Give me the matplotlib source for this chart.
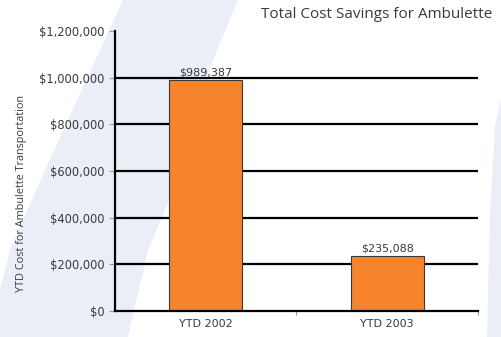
import matplotlib
matplotlib.use("Agg")
import matplotlib.pyplot as plt
from matplotlib.patches import Polygon
from matplotlib.ticker import FuncFormatter

categories = ["YTD 2002", "YTD 2003"]
values = [989387, 235088]
value_labels = ["$989,387", "$235,088"]
yticks = [0, 200000, 400000, 600000, 800000, 1000000, 1200000]

W, H = 502, 337
plt.rcParams['font.family'] = ['DejaVu Sans']
fig = plt.figure(figsize=(W / 100, H / 100), dpi=100)
fig.patch.set_facecolor('white')

band_color = '#EAEFF7'
def px(pts):
    return [(x / W, 1 - y / H) for x, y in pts]

left_band = px([(123, 0), (100, 50), (45, 170), (10, 250), (-12, 337),
                (128, 337), (148, 250), (182, 170), (213, 60), (238, 0)])
right_band = px([(503, 90), (495, 125), (490, 213), (487, 337), (503, 337)])
for poly in (left_band, right_band):
    fig.patches.append(Polygon(poly, closed=True, transform=fig.transFigure,
                               facecolor=band_color, edgecolor='none', zorder=-10))

ax = fig.add_axes([115 / W, 1 - 311 / H, (478 - 115) / W, (311 - 31) / H])
ax.set_facecolor('none')

txt = '#3a3a3a'
x = list(range(len(categories)))
ax.bar(x, values, width=0.4, color='#F5842C', edgecolor='#3a3a3a',
       linewidth=0.8, zorder=3)
for xi, v, lab in zip(x, values, value_labels):
    ax.annotate(lab, (xi, v), xytext=(0, 2), textcoords='offset points',
                ha='center', va='bottom', fontsize=8, color=txt)

ax.set_xlim(-0.5, 1.5)
ax.set_ylim(0, 1200000)
ax.set_yticks(yticks)
ax.yaxis.set_major_formatter(FuncFormatter(lambda v, p: "${:,.0f}".format(v)))
ax.set_xticks(x)
ax.set_xticklabels(categories)
ax.set_xticks([0.5, 1.5], minor=True)
ax.tick_params(axis='x', which='major', length=0, pad=6, labelsize=8,
               labelcolor=txt)
ax.tick_params(axis='x', which='minor', length=3, color='#999999', width=0.8)
ax.tick_params(axis='y', which='major', length=4, color='#999999', width=0.8,
               pad=3.5, labelsize=8.3, labelcolor=txt)

for y in yticks[1:-1]:
    ax.axhline(y, color='black', linewidth=1.6, zorder=1)
ax.set_axisbelow(True)

for s in ['top', 'right']:
    ax.spines[s].set_visible(False)
for s in ['left', 'bottom']:
    ax.spines[s].set_linewidth(1.6)
    ax.spines[s].set_color('black')
    ax.spines[s].set_zorder(4)

fig.text(22 / W, 1 - 193 / H, "YTD Cost for Ambulette Transportation",
         rotation=90, ha='center', va='center', fontsize=7.8, color=txt,
         family=['Open Sans', 'DejaVu Sans'])
fig.text(492 / W, 1 - 15 / H, "Total Cost Savings for Ambulette",
         ha='right', va='center', fontsize=11, color=txt,
         family=['Open Sans', 'DejaVu Sans'])

fig.savefig("out.png", dpi=100)
